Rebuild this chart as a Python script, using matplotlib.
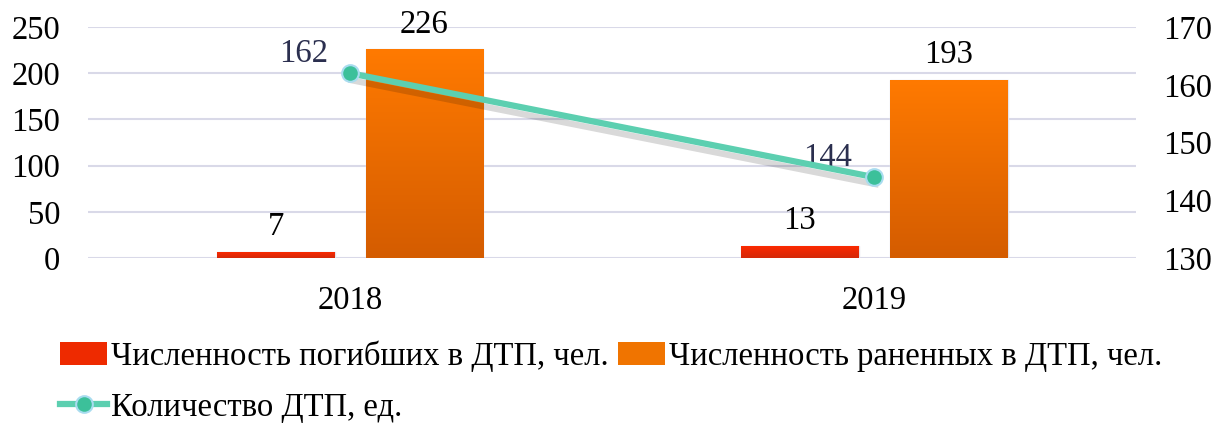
import matplotlib
matplotlib.use("Agg")
import matplotlib.pyplot as plt
import numpy as np
from matplotlib.patches import Patch
from matplotlib.lines import Line2D
from matplotlib.colors import LinearSegmentedColormap
import matplotlib.patheffects as pe

plt.rcParams['font.family'] = ['Liberation Serif', 'DejaVu Serif']

years = ["2018", "2019"]
killed = [7, 13]
injured = [226, 193]
accidents = [162, 144]

left_ticks = [0, 50, 100, 150, 200, 250]
right_ticks = [130, 140, 150, 160, 170]

FS = 23.5
fig = plt.figure(figsize=(12.32, 4.23), dpi=100)
ax = fig.add_axes([0.0714, 0.390, 0.851, 0.546])
ax2 = ax.twinx()

x = np.arange(len(years))
w = 0.225
off = 0.142

red_cmap = LinearSegmentedColormap.from_list("r", ["#ff2a00", "#d42808"])
org_cmap = LinearSegmentedColormap.from_list("o", ["#ff7a00", "#d45c00"])

grad = np.linspace(0, 1, 256).reshape(-1, 1)

def grad_bars(xs, vals, cmap):
    bars = ax.bar(xs, vals, width=w, color=cmap(0.5), edgecolor='#e4e4ec', linewidth=1.0, zorder=2)
    for b in bars:
        x0, y0 = b.get_x(), b.get_y()
        x1, y1 = x0 + b.get_width(), y0 + b.get_height()
        im = ax.imshow(grad, cmap=cmap, extent=[x0, x1, y0, y1], origin='upper',
                       aspect='auto', zorder=3)
        im.set_clip_path(b)
    return bars

b1 = grad_bars(x - off, killed, red_cmap)
b2 = grad_bars(x + off, injured, org_cmap)

for xi, v in zip(x - off, killed):
    ax.annotate(str(v), (xi, v), xytext=(0, 12), textcoords='offset points',
                ha='center', va='baseline', fontsize=FS, color='black')
for xi, v in zip(x + off, injured):
    ax.annotate(str(v), (xi, v), xytext=(0, 12), textcoords='offset points',
                ha='center', va='baseline', fontsize=FS, color='black')

ax.set_xlim(-0.5, 1.5)
ax.set_ylim(0, 250)
ax.set_yticks(left_ticks)
ax.set_xticks(x)
ax.set_xticklabels(years)
ax.grid(axis='y', color='#d9d9e8', linewidth=1.5, zorder=0)
ax.set_axisbelow(True)
ax.tick_params(axis='both', length=0, labelsize=FS, colors='black')
ax.tick_params(axis='y', pad=20)
ax.tick_params(axis='x', pad=20)
for s in ax.spines.values():
    s.set_visible(False)

# line with soft shadow (line only), then markers on top
ax2.plot(x, accidents, color='#5ccfb0', linewidth=4.5, zorder=5,
         path_effects=[pe.SimpleLineShadow(offset=(1, -5), shadow_color='black', alpha=0.15),
                       pe.Normal()])
ax2.plot(x, accidents, linestyle='none', marker='o', markersize=12,
         markerfacecolor='#3cc09a', markeredgecolor='#a8dcef', markeredgewidth=1.5, zorder=6)
for xi, v in zip(x, accidents):
    ax2.annotate(str(v), (xi, v), xytext=(-16, 8), textcoords='offset points',
                 ha='right', va='baseline', fontsize=FS, color='#2b2f4f')
ax2.set_ylim(130, 170)
ax2.set_yticks(right_ticks)
ax2.tick_params(axis='y', length=0, labelsize=FS, pad=19, colors='black')
for s in ax2.spines.values():
    s.set_visible(False)

handles = [Patch(facecolor='#ee2a00', edgecolor='none'),
           Line2D([0], [0], color='#5ccfb0', linewidth=4.5, marker='o', markersize=12,
                  markerfacecolor='#3cc09a', markeredgecolor='#a8dcef', markeredgewidth=1.5),
           Patch(facecolor='#f07400', edgecolor='none')]
labels = ["Численность погибших в ДТП, чел.", "Количество ДТП, ед.",
          "Численность раненных в ДТП, чел."]
fig.legend(handles, labels, loc='lower center', bbox_to_anchor=(0.496, -0.069), ncol=2,
           frameon=False, fontsize=FS, handlelength=1.45, handletextpad=0.1,
           columnspacing=0.3, labelspacing=0.62)

fig.savefig("out.png", dpi=100)
